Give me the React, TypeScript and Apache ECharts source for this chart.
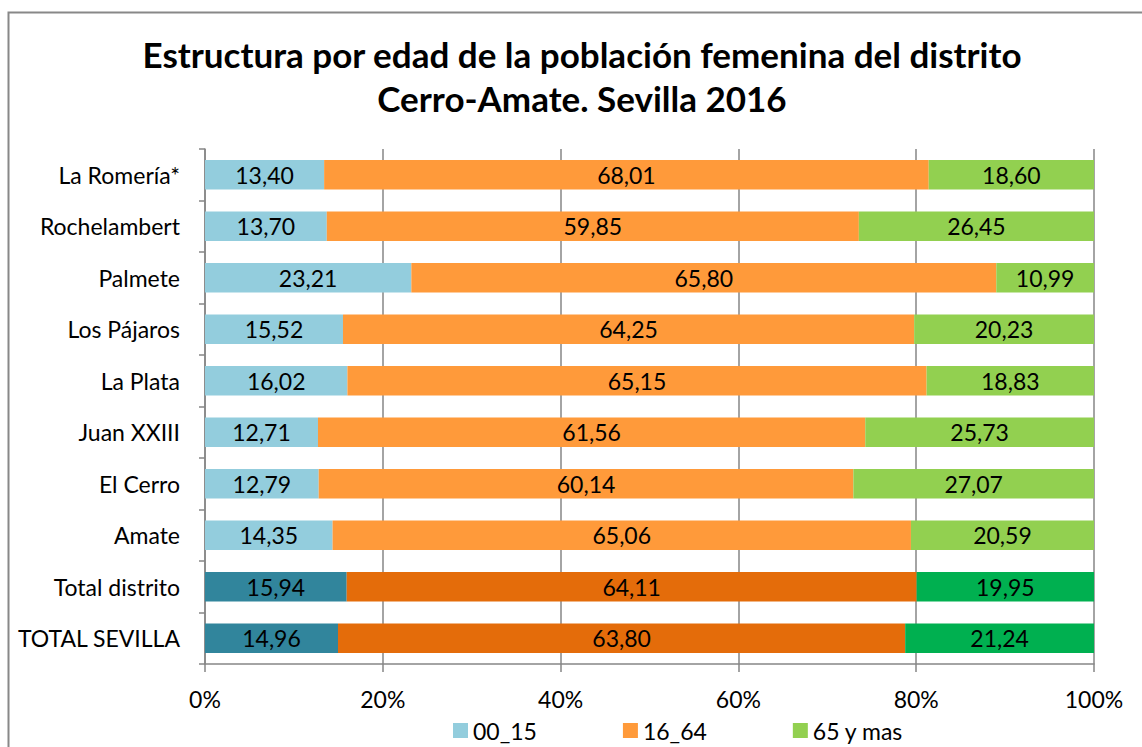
import React, { useEffect, useRef } from "react";
import * as echarts from "echarts";

const categories = [
  "La Romería*",
  "Rochelambert",
  "Palmete",
  "Los Pájaros",
  "La Plata",
  "Juan XXIII",
  "El Cerro",
  "Amate",
  "Total distrito",
  "TOTAL SEVILLA",
];
const s0015 = [13.4, 13.7, 23.21, 15.52, 16.02, 12.71, 12.79, 14.35, 15.94, 14.96];
const s1664 = [68.01, 59.85, 65.8, 64.25, 65.15, 61.56, 60.14, 65.06, 64.11, 63.8];
const s65 = [18.6, 26.45, 10.99, 20.23, 18.83, 25.73, 27.07, 20.59, 19.95, 21.24];
const seriesNames = ["00_15", "16_64", "65 y mas"];
const xTicks = [0, 20, 40, 60, 80, 100];
const darkRows = ["Total distrito", "TOTAL SEVILLA"];

const lightColors = ["#93CDDD", "#FF9A3A", "#92D050"];
const darkColors = ["#31859C", "#E46C0A", "#00B050"];
const FONT = "Lato, 'Open Sans', sans-serif";
const FS = 23;

export default function App() {
  const ref = useRef<HTMLDivElement>(null);
  useEffect(() => {
    if (!ref.current) return;
    const chart = echarts.init(ref.current, undefined, { renderer: "svg" });
    const all = [s0015, s1664, s65];
    const series = all.map((vals, si) => ({
      name: seriesNames[si],
      type: "bar",
      stack: "total",
      barWidth: "57%",
      itemStyle: { color: lightColors[si] },
      label: {
        show: true,
        position: "inside",
        color: "#000",
        fontSize: FS,
        fontFamily: FONT,
        formatter: (p: any) => Number(p.value).toFixed(2).replace(".", ","),
      },
      data: vals.map((v, i) =>
        darkRows.includes(categories[i])
          ? { value: v, itemStyle: { color: darkColors[si] } }
          : v
      ),
    }));
    chart.setOption({
      animation: false,
      backgroundColor: "#fff",
      title: {
        text: "Estructura por edad de la población femenina del distrito\nCerro-Amate. Sevilla 2016",
        left: 582,
        textAlign: "center",
        top: 32,
        padding: 0,
        textStyle: {
          fontSize: 35,
          fontWeight: "bold",
          fontFamily: FONT,
          color: "#000",
          lineHeight: 44,
        },
      },
      graphic: [
        {
          type: "rect",
          shape: { x: 8.5, y: 12.5, width: 1300, height: 900 },
          style: { fill: "none", stroke: "#888", lineWidth: 2 },
          silent: true,
        },
      ],
      legend: {
        left: 453,
        top: 719,
        padding: 0,
        itemWidth: 15,
        itemHeight: 15,
        itemGap: 86,
        icon: "rect",
        textStyle: { fontSize: FS, fontFamily: FONT, color: "#000" },
        data: seriesNames,
      },
      grid: { left: 205, right: 48, top: 149, bottom: 83 },
      xAxis: {
        type: "value",
        min: 0,
        max: 100,
        interval: 20,
        axisLine: { show: true, lineStyle: { color: "#868686", width: 1.5 } },
        axisTick: { show: true, length: 8, lineStyle: { color: "#868686", width: 1.5 } },
        splitLine: { show: true, lineStyle: { color: "#868686", width: 1.5 } },
        axisLabel: {
          fontSize: FS,
          fontFamily: FONT,
          color: "#000",
          margin: 23,
          formatter: (v: number) => (xTicks.includes(v) ? `${v}%` : ""),
        },
      },
      yAxis: {
        type: "category",
        inverse: true,
        data: categories,
        axisLine: { show: true, lineStyle: { color: "#868686", width: 1.5 } },
        axisTick: { show: true, length: 6, lineStyle: { color: "#868686", width: 1.5 } },
        axisLabel: { fontSize: FS, fontFamily: FONT, color: "#000", margin: 25 },
      },
      series,
    });
    return () => chart.dispose();
  }, []);
  return (
    <div
      ref={ref}
      style={{ position: "fixed", left: 0, top: 0, width: 1142, height: 747 }}
    />
  );
}
